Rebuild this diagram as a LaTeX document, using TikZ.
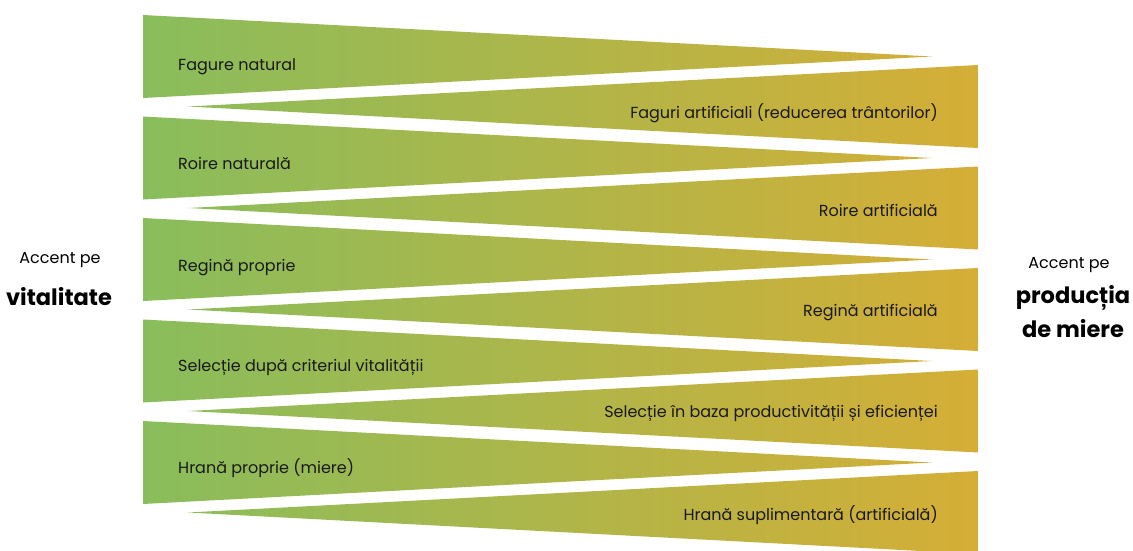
\documentclass[tikz,border=0pt]{standalone}
\usepackage{fontspec}
\setmainfont{Poppins}
\begin{document}
\begin{tikzpicture}[x=1pt,y=-1pt,
  lbl/.style={font=\fontsize{16}{18}\selectfont, inner sep=0pt, text=black!90},
  side/.style={font=\fontsize{16}{18}\selectfont, inner sep=0pt},
  sidebold/.style={font=\fontsize{22.5}{26}\selectfont\bfseries, inner sep=0pt}]
\definecolor{lgreen}{RGB}{137,189,92}
\definecolor{lgold}{RGB}{213,174,54}
\useasboundingbox (0,0) rectangle (1133,550);
\begin{scope}
  \clip
  \foreach \i in {0,...,4}{
    (143,{15+101.5*\i}) -- (932,{56.5+101.5*\i}) -- (143,{98+101.5*\i}) -- cycle
    (978,{65+101.5*\i}) -- (188,{106.5+101.5*\i}) -- (978,{148+101.5*\i}) -- cycle
  };
  \shade[left color=lgreen, right color=lgold] (143,0) rectangle (978,560);
\end{scope}
% left labels
\node[lbl, anchor=base west] (l1) at (178,70) {Fagure natural};
\node[lbl, anchor=base west] (l2) at (178,169) {Roire naturală};
\node[lbl, anchor=base west] (l3) at (178,271) {Regină proprie};
\node[lbl, anchor=base west] (l4) at (178,371) {Selecție după criteriul vitalității};
\node[lbl, anchor=base west] (l5) at (178,473) {Hrană proprie (miere)};
% right labels
\node[lbl, anchor=base east] (r1) at (938,118) {Faguri artificiali (reducerea trântorilor)};
\node[lbl, anchor=base east] (r2) at (938,216) {Roire artificială};
\node[lbl, anchor=base east] (r3) at (938,316) {Regină artificială};
\node[lbl, anchor=base east] (r4) at (938,417) {Selecție în baza productivității și eficienței};
\node[lbl, anchor=base east] (r5) at (938,520) {Hrană suplimentară (artificială)};
% side labels
\node[side, anchor=base] (la) at (60,263) {Accent pe};
\node[sidebold, anchor=base] (lb) at (59,305) {vitalitate};
\node[side, anchor=base] (ra) at (1069,268) {Accent pe};
\node[sidebold, anchor=base] (rb) at (1073,303) {producția};
\node[sidebold, anchor=base] (rc) at (1073,337) {de miere};
\end{tikzpicture}
\end{document}
